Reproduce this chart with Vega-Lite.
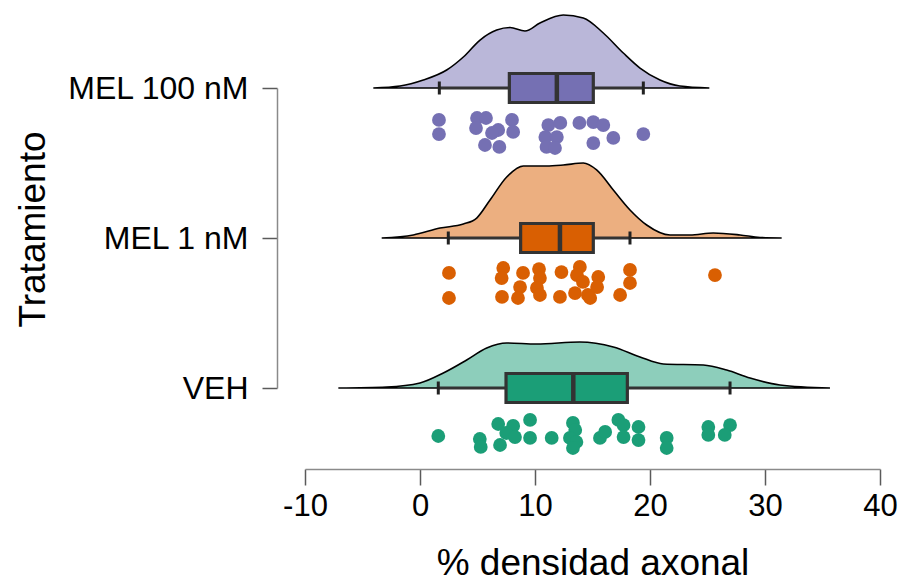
{
  "$schema": "https://vega.github.io/schema/vega-lite/v6.json",
  "autosize": "none",
  "width": 575,
  "height": 300,
  "padding": {"left": 305, "top": 88, "right": 24, "bottom": 196},
  "background": "white",
  "config": {
    "view": {"stroke": null},
    "font": "Liberation Sans",
    "axis": {"grid": false, "labelFont": "Liberation Sans", "titleFont": "Liberation Sans", "labelColor": "black", "titleColor": "black", "titleFontWeight": "normal", "domainColor": "#8a8a8a", "tickColor": "#5a5a5a", "domainWidth": 1.5, "tickWidth": 1.5, "labelLimit": 0}
  },
  "datasets": {
    "densidades": [
      {"grupo": "MEL 100 nM", "x": -4.06, "dens": 0},
      {"grupo": "MEL 100 nM", "x": -1.74, "dens": 0.0019},
      {"grupo": "MEL 100 nM", "x": 0.29, "dens": 0.0076},
      {"grupo": "MEL 100 nM", "x": 2.32, "dens": 0.0171},
      {"grupo": "MEL 100 nM", "x": 3.77, "dens": 0.0295},
      {"grupo": "MEL 100 nM", "x": 5.22, "dens": 0.0457},
      {"grupo": "MEL 100 nM", "x": 6.67, "dens": 0.0552},
      {"grupo": "MEL 100 nM", "x": 7.83, "dens": 0.0576},
      {"grupo": "MEL 100 nM", "x": 9.13, "dens": 0.0543},
      {"grupo": "MEL 100 nM", "x": 10.43, "dens": 0.0619},
      {"grupo": "MEL 100 nM", "x": 12.46, "dens": 0.0695},
      {"grupo": "MEL 100 nM", "x": 14.2, "dens": 0.0667},
      {"grupo": "MEL 100 nM", "x": 15.94, "dens": 0.0524},
      {"grupo": "MEL 100 nM", "x": 17.68, "dens": 0.0333},
      {"grupo": "MEL 100 nM", "x": 19.13, "dens": 0.019},
      {"grupo": "MEL 100 nM", "x": 20.87, "dens": 0.0076},
      {"grupo": "MEL 100 nM", "x": 22.6, "dens": 0.0019},
      {"grupo": "MEL 100 nM", "x": 25.16, "dens": 0},
      {"grupo": "MEL 1 nM", "x": -3.33, "dens": 0},
      {"grupo": "MEL 1 nM", "x": -0.58, "dens": 0.0029},
      {"grupo": "MEL 1 nM", "x": 1.74, "dens": 0.0095},
      {"grupo": "MEL 1 nM", "x": 3.77, "dens": 0.0133},
      {"grupo": "MEL 1 nM", "x": 4.93, "dens": 0.019},
      {"grupo": "MEL 1 nM", "x": 6.09, "dens": 0.0362},
      {"grupo": "MEL 1 nM", "x": 7.54, "dens": 0.0581},
      {"grupo": "MEL 1 nM", "x": 8.99, "dens": 0.0686},
      {"grupo": "MEL 1 nM", "x": 11.0, "dens": 0.0686},
      {"grupo": "MEL 1 nM", "x": 12.46, "dens": 0.0695},
      {"grupo": "MEL 1 nM", "x": 14.2, "dens": 0.0714},
      {"grupo": "MEL 1 nM", "x": 15.36, "dens": 0.0648},
      {"grupo": "MEL 1 nM", "x": 16.81, "dens": 0.0457},
      {"grupo": "MEL 1 nM", "x": 18.26, "dens": 0.0267},
      {"grupo": "MEL 1 nM", "x": 19.71, "dens": 0.0124},
      {"grupo": "MEL 1 nM", "x": 21.74, "dens": 0.0029},
      {"grupo": "MEL 1 nM", "x": 23.48, "dens": 0.0029},
      {"grupo": "MEL 1 nM", "x": 25.5, "dens": 0.0048},
      {"grupo": "MEL 1 nM", "x": 27.83, "dens": 0.0029},
      {"grupo": "MEL 1 nM", "x": 29.57, "dens": 0.0005},
      {"grupo": "MEL 1 nM", "x": 31.45, "dens": 0},
      {"grupo": "VEH", "x": -7.1, "dens": 0},
      {"grupo": "VEH", "x": -2.9, "dens": 0.001},
      {"grupo": "VEH", "x": 0.0, "dens": 0.0048},
      {"grupo": "VEH", "x": 2.03, "dens": 0.0143},
      {"grupo": "VEH", "x": 4.06, "dens": 0.0267},
      {"grupo": "VEH", "x": 5.8, "dens": 0.0381},
      {"grupo": "VEH", "x": 7.54, "dens": 0.0429},
      {"grupo": "VEH", "x": 10.14, "dens": 0.0419},
      {"grupo": "VEH", "x": 13.9, "dens": 0.0438},
      {"grupo": "VEH", "x": 16.81, "dens": 0.039},
      {"grupo": "VEH", "x": 19.13, "dens": 0.0295},
      {"grupo": "VEH", "x": 21.16, "dens": 0.0229},
      {"grupo": "VEH", "x": 24.64, "dens": 0.0219},
      {"grupo": "VEH", "x": 26.67, "dens": 0.0171},
      {"grupo": "VEH", "x": 28.7, "dens": 0.0095},
      {"grupo": "VEH", "x": 31.3, "dens": 0.0029},
      {"grupo": "VEH", "x": 35.65, "dens": 0}
    ],
    "cajas": [
      {"grupo": "MEL 100 nM", "lower": 1.68, "q1": 7.77, "median": 11.9, "q3": 15.07, "upper": 19.42},
      {"grupo": "MEL 1 nM", "lower": 2.46, "q1": 8.75, "median": 12.17, "q3": 15.07, "upper": 18.26},
      {"grupo": "VEH", "lower": 1.59, "q1": 7.48, "median": 13.33, "q3": 18.03, "upper": 26.96}
    ],
    "puntos": [
      {"grupo": "MEL 100 nM", "valor": 1.65, "jitter": 0.213},
      {"grupo": "MEL 100 nM", "valor": 1.65, "jitter": 0.307},
      {"grupo": "MEL 100 nM", "valor": 4.96, "jitter": 0.2},
      {"grupo": "MEL 100 nM", "valor": 5.74, "jitter": 0.2},
      {"grupo": "MEL 100 nM", "valor": 4.87, "jitter": 0.267},
      {"grupo": "MEL 100 nM", "valor": 8.0, "jitter": 0.213},
      {"grupo": "MEL 100 nM", "valor": 8.1, "jitter": 0.293},
      {"grupo": "MEL 100 nM", "valor": 6.8, "jitter": 0.28},
      {"grupo": "MEL 100 nM", "valor": 6.26, "jitter": 0.3},
      {"grupo": "MEL 100 nM", "valor": 5.65, "jitter": 0.38},
      {"grupo": "MEL 100 nM", "valor": 6.9, "jitter": 0.393},
      {"grupo": "MEL 100 nM", "valor": 11.16, "jitter": 0.247},
      {"grupo": "MEL 100 nM", "valor": 12.2, "jitter": 0.233},
      {"grupo": "MEL 100 nM", "valor": 10.9, "jitter": 0.327},
      {"grupo": "MEL 100 nM", "valor": 11.9, "jitter": 0.327},
      {"grupo": "MEL 100 nM", "valor": 11.0, "jitter": 0.393},
      {"grupo": "MEL 100 nM", "valor": 11.74, "jitter": 0.4},
      {"grupo": "MEL 100 nM", "valor": 13.86, "jitter": 0.233},
      {"grupo": "MEL 100 nM", "valor": 15.07, "jitter": 0.227},
      {"grupo": "MEL 100 nM", "valor": 15.94, "jitter": 0.247},
      {"grupo": "MEL 100 nM", "valor": 15.07, "jitter": 0.367},
      {"grupo": "MEL 100 nM", "valor": 16.81, "jitter": 0.333},
      {"grupo": "MEL 100 nM", "valor": 19.42, "jitter": 0.307},
      {"grupo": "MEL 1 nM", "valor": 2.52, "jitter": 0.233},
      {"grupo": "MEL 1 nM", "valor": 2.52, "jitter": 0.4},
      {"grupo": "MEL 1 nM", "valor": 7.24, "jitter": 0.2},
      {"grupo": "MEL 1 nM", "valor": 7.1, "jitter": 0.267},
      {"grupo": "MEL 1 nM", "valor": 7.13, "jitter": 0.393},
      {"grupo": "MEL 1 nM", "valor": 8.96, "jitter": 0.233},
      {"grupo": "MEL 1 nM", "valor": 8.7, "jitter": 0.327},
      {"grupo": "MEL 1 nM", "valor": 8.52, "jitter": 0.4},
      {"grupo": "MEL 1 nM", "valor": 10.35, "jitter": 0.207},
      {"grupo": "MEL 1 nM", "valor": 10.43, "jitter": 0.267},
      {"grupo": "MEL 1 nM", "valor": 10.17, "jitter": 0.333},
      {"grupo": "MEL 1 nM", "valor": 10.43, "jitter": 0.38},
      {"grupo": "MEL 1 nM", "valor": 12.3, "jitter": 0.227},
      {"grupo": "MEL 1 nM", "valor": 12.17, "jitter": 0.393},
      {"grupo": "MEL 1 nM", "valor": 13.9, "jitter": 0.193},
      {"grupo": "MEL 1 nM", "valor": 13.65, "jitter": 0.247},
      {"grupo": "MEL 1 nM", "valor": 14.17, "jitter": 0.293},
      {"grupo": "MEL 1 nM", "valor": 13.48, "jitter": 0.367},
      {"grupo": "MEL 1 nM", "valor": 14.6, "jitter": 0.38},
      {"grupo": "MEL 1 nM", "valor": 15.5, "jitter": 0.26},
      {"grupo": "MEL 1 nM", "valor": 15.4, "jitter": 0.327},
      {"grupo": "MEL 1 nM", "valor": 14.8, "jitter": 0.4},
      {"grupo": "MEL 1 nM", "valor": 18.26, "jitter": 0.213},
      {"grupo": "MEL 1 nM", "valor": 18.26, "jitter": 0.3},
      {"grupo": "MEL 1 nM", "valor": 17.4, "jitter": 0.38},
      {"grupo": "MEL 1 nM", "valor": 25.65, "jitter": 0.247},
      {"grupo": "VEH", "valor": 1.59, "jitter": 0.32},
      {"grupo": "VEH", "valor": 5.2, "jitter": 0.34},
      {"grupo": "VEH", "valor": 5.28, "jitter": 0.393},
      {"grupo": "VEH", "valor": 6.8, "jitter": 0.24},
      {"grupo": "VEH", "valor": 6.96, "jitter": 0.38},
      {"grupo": "VEH", "valor": 8.1, "jitter": 0.253},
      {"grupo": "VEH", "valor": 7.5, "jitter": 0.3},
      {"grupo": "VEH", "valor": 8.26, "jitter": 0.327},
      {"grupo": "VEH", "valor": 9.57, "jitter": 0.213},
      {"grupo": "VEH", "valor": 9.57, "jitter": 0.333},
      {"grupo": "VEH", "valor": 11.45, "jitter": 0.333},
      {"grupo": "VEH", "valor": 13.3, "jitter": 0.233},
      {"grupo": "VEH", "valor": 13.5, "jitter": 0.28},
      {"grupo": "VEH", "valor": 13.04, "jitter": 0.333},
      {"grupo": "VEH", "valor": 13.6, "jitter": 0.36},
      {"grupo": "VEH", "valor": 13.3, "jitter": 0.4},
      {"grupo": "VEH", "valor": 15.65, "jitter": 0.333},
      {"grupo": "VEH", "valor": 16.1, "jitter": 0.293},
      {"grupo": "VEH", "valor": 17.25, "jitter": 0.213},
      {"grupo": "VEH", "valor": 17.7, "jitter": 0.247},
      {"grupo": "VEH", "valor": 17.7, "jitter": 0.327},
      {"grupo": "VEH", "valor": 19.0, "jitter": 0.26},
      {"grupo": "VEH", "valor": 19.0, "jitter": 0.347},
      {"grupo": "VEH", "valor": 21.45, "jitter": 0.333},
      {"grupo": "VEH", "valor": 21.45, "jitter": 0.4},
      {"grupo": "VEH", "valor": 25.07, "jitter": 0.26},
      {"grupo": "VEH", "valor": 25.07, "jitter": 0.313},
      {"grupo": "VEH", "valor": 26.96, "jitter": 0.247},
      {"grupo": "VEH", "valor": 26.5, "jitter": 0.313}
    ]
  },
  "layer": [
    {
      "data": {"name": "densidades"},
      "transform": [
        {"calculate": "datum.grupo == 'VEH' ? 1 : (datum.grupo == 'MEL 1 nM' ? 2 : 3)", "as": "pos"},
        {"calculate": "datum.pos + datum.dens * 7", "as": "curva"}
      ],
      "mark": {"type": "area", "interpolate": "monotone", "fillOpacity": 0.5, "stroke": "black", "strokeWidth": 1.6},
      "encoding": {
        "x": {"field": "x", "type": "quantitative", "scale": {"domain": [-10, 40], "nice": false, "zero": false, "padding": 0},
          "axis": {"title": "% densidad axonal", "values": [-10, 0, 10, 20, 30, 40], "offset": 81, "tickSize": 16, "labelFontSize": 31, "labelPadding": 6, "titleFontSize": 37, "titlePadding": 24, "labelFlush": false, "labelExpr": "datum.value + ''"}},
        "y": {"field": "curva", "type": "quantitative", "scale": {"domain": [1, 3], "nice": false, "zero": false, "padding": 0},
          "axis": {"title": "Tratamiento", "values": [1, 2, 3], "offset": 28, "tickSize": 15, "labelPadding": 14, "labelFontSize": 32, "titleFontSize": 37, "titlePadding": 25, "titleY": 141, "labelExpr": "datum.value == 1 ? 'VEH' : (datum.value == 2 ? 'MEL 1 nM' : 'MEL 100 nM')"}},
        "y2": {"field": "pos"},
        "color": {"field": "grupo", "type": "nominal", "scale": {"domain": ["MEL 100 nM", "MEL 1 nM", "VEH"], "range": ["#7570b3", "#d95f02", "#1b9e77"]}, "legend": null}
      }
    },
    {
      "data": {"name": "cajas"},
      "transform": [{"calculate": "datum.grupo == 'VEH' ? 1 : (datum.grupo == 'MEL 1 nM' ? 2 : 3)", "as": "pos"}],
      "mark": {"type": "rule", "color": "#333333", "strokeWidth": 3},
      "encoding": {
        "x": {"field": "lower", "type": "quantitative"},
        "x2": {"field": "upper"},
        "y": {"field": "pos", "type": "quantitative"}
      }
    },
    {
      "data": {"name": "cajas"},
      "transform": [{"calculate": "datum.grupo == 'VEH' ? 1 : (datum.grupo == 'MEL 1 nM' ? 2 : 3)", "as": "pos"}],
      "mark": {"type": "tick", "orient": "vertical", "color": "#222222", "size": 13, "thickness": 3, "opacity": 1},
      "encoding": {
        "x": {"field": "lower", "type": "quantitative"},
        "y": {"field": "pos", "type": "quantitative"}
      }
    },
    {
      "data": {"name": "cajas"},
      "transform": [{"calculate": "datum.grupo == 'VEH' ? 1 : (datum.grupo == 'MEL 1 nM' ? 2 : 3)", "as": "pos"}],
      "mark": {"type": "tick", "orient": "vertical", "color": "#222222", "size": 13, "thickness": 3, "opacity": 1},
      "encoding": {
        "x": {"field": "upper", "type": "quantitative"},
        "y": {"field": "pos", "type": "quantitative"}
      }
    },
    {
      "data": {"name": "cajas"},
      "transform": [{"calculate": "datum.grupo == 'VEH' ? 1 : (datum.grupo == 'MEL 1 nM' ? 2 : 3)", "as": "pos"}],
      "mark": {"type": "bar", "orient": "horizontal", "size": 29, "stroke": "#333333", "strokeWidth": 3.2, "opacity": 1},
      "encoding": {
        "x": {"field": "q1", "type": "quantitative"},
        "x2": {"field": "q3"},
        "y": {"field": "pos", "type": "quantitative"},
        "color": {"field": "grupo", "type": "nominal"}
      }
    },
    {
      "data": {"name": "cajas"},
      "transform": [{"calculate": "datum.grupo == 'VEH' ? 1 : (datum.grupo == 'MEL 1 nM' ? 2 : 3)", "as": "pos"}],
      "mark": {"type": "tick", "orient": "vertical", "color": "#333333", "size": 29, "thickness": 4.5, "opacity": 1},
      "encoding": {
        "x": {"field": "median", "type": "quantitative"},
        "y": {"field": "pos", "type": "quantitative"}
      }
    },
    {
      "data": {"name": "puntos"},
      "transform": [
        {"calculate": "datum.grupo == 'VEH' ? 1 : (datum.grupo == 'MEL 1 nM' ? 2 : 3)", "as": "pos"},
        {"calculate": "datum.pos - datum.jitter", "as": "ypunto"}
      ],
      "mark": {"type": "circle", "size": 190, "opacity": 1},
      "encoding": {
        "x": {"field": "valor", "type": "quantitative"},
        "y": {"field": "ypunto", "type": "quantitative"},
        "color": {"field": "grupo", "type": "nominal"}
      }
    }
  ]
}
